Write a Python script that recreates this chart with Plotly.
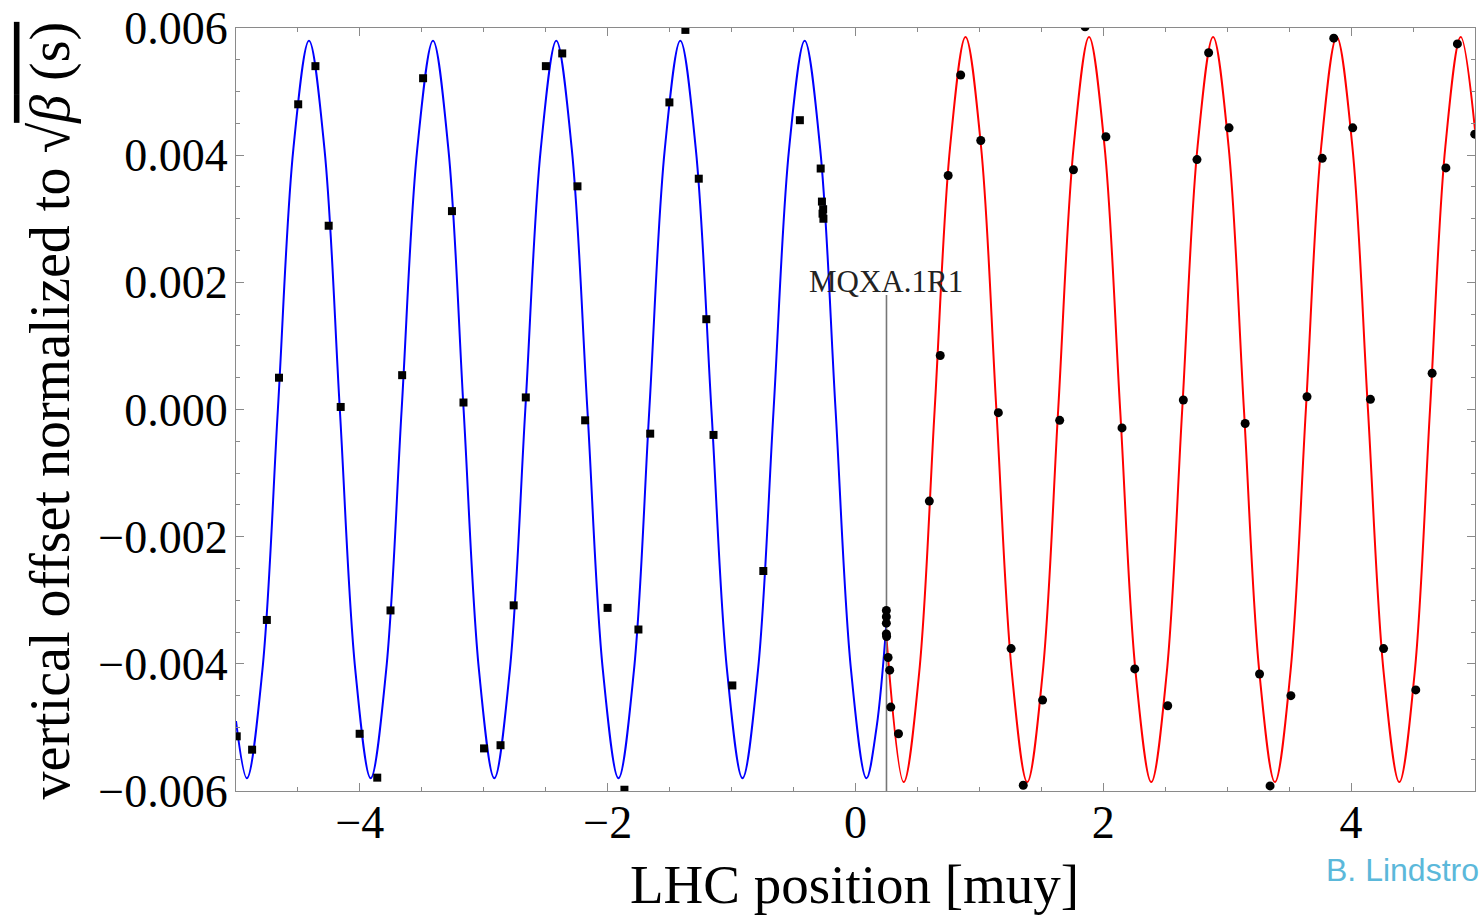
import plotly.graph_objects as go

# ---- measured data (blue: squares, left of MQXA.1R1; red: circles, right) ----
blue_x = [-4.994, -4.870, -4.751, -4.653, -4.498, -4.359, -4.252, -4.155, -4.002, -3.860,
          -3.753, -3.659, -3.490, -3.257, -3.164, -2.998, -2.865, -2.759, -2.661, -2.499,
          -2.367, -2.244, -2.182, -2.001, -1.865, -1.752, -1.657, -1.502, -1.373, -1.265,
          -1.204, -1.146, -0.994, -0.744, -0.449, -0.281, -0.271, -0.266, -0.261, -0.259]
blue_y = [-0.00514, -0.00535, -0.00331, 0.00050, 0.00480, 0.00540, 0.00289, 0.00004, -0.00510, -0.00579,
          -0.00316, 0.00054, 0.00521, 0.00312, 0.00011, -0.00533, -0.00528, -0.00308, 0.00019, 0.00540,
          0.00560, 0.00351, -0.00017, -0.00312, -0.00598, -0.00346, -0.00038, 0.00483, 0.00597, 0.00363,
          0.00142, -0.00040, -0.00434, -0.00254, 0.00455, 0.00379, 0.00327, 0.00308, 0.00315, 0.00300]

red_x = [0.249, 0.249, 0.249, 0.249, 0.251, 0.263, 0.276, 0.285, 0.347, 0.596,
         0.684, 0.748, 0.849, 1.011, 1.153, 1.256, 1.354, 1.510, 1.648, 1.759,
         1.853, 2.021, 2.151, 2.254, 2.520, 2.646, 2.756, 2.850, 3.015, 3.145,
         3.261, 3.346, 3.514, 3.644, 3.767, 3.860, 4.013, 4.156, 4.262, 4.522,
         4.654, 4.765, 4.858, 4.998]
red_y = [-0.00316, -0.00326, -0.00336, -0.00353, -0.00357, -0.00390, -0.00410, -0.00468, -0.00510, -0.00144,
         0.00085, 0.00368, 0.00526, 0.00423, -0.00005, -0.00376, -0.00591, -0.00457, -0.00017, 0.00377,
         0.00602, 0.00429, -0.00029, -0.00408, -0.00466, 0.00015, 0.00393, 0.00561, 0.00443, -0.00022,
         -0.00416, -0.00592, -0.00450, 0.00020, 0.00395, 0.00584, 0.00443, 0.00016, -0.00376, -0.00441,
         0.00057, 0.00380, 0.00575, 0.00433]

# ---- fitted oscillation curves: key points ----
blue_fit_x = [-5.000, -4.912, -4.787, -4.662, -4.537, -4.411, -4.286, -4.162, -4.037,
              -3.913, -3.788, -3.663, -3.537, -3.410, -3.286, -3.163, -3.039,
              -2.915, -2.790, -2.665, -2.540, -2.415, -2.290, -2.164, -2.039,
              -1.913, -1.788, -1.664, -1.539, -1.414, -1.289, -1.163, -1.037,
              -0.912, -0.787, -0.661, -0.536, -0.410, -0.285, -0.161, -0.036,
              0.088, 0.170, 0.250]
blue_fit_y = [-0.00490, -0.00580, -0.00410, 0.0, 0.00410, 0.00580, 0.00410, 0.0, -0.00410,
              -0.00580, -0.00410, 0.0, 0.00410, 0.00580, 0.00410, 0.0, -0.00410,
              -0.00580, -0.00410, 0.0, 0.00410, 0.00580, 0.00410, 0.0, -0.00410,
              -0.00580, -0.00410, 0.0, 0.00410, 0.00580, 0.00410, 0.0, -0.00410,
              -0.00580, -0.00410, 0.0, 0.00410, 0.00580, 0.00410, 0.0, -0.00410,
              -0.00580, -0.00500, -0.00335]

red_fit_x = [0.250, 0.389, 0.514, 0.639, 0.764, 0.888, 1.013, 1.137, 1.262,
             1.386, 1.511, 1.636, 1.761, 1.885, 2.010, 2.136, 2.261,
             2.387, 2.512, 2.637, 2.761, 2.886, 3.011, 3.135, 3.260,
             3.385, 3.510, 3.635, 3.759, 3.884, 4.010, 4.136, 4.263,
             4.389, 4.513, 4.637, 4.761, 4.885, 5.000]
red_fit_y = [-0.00360, -0.00586, -0.00414, 0.0, 0.00414, 0.00586, 0.00414, 0.0, -0.00414,
             -0.00586, -0.00414, 0.0, 0.00414, 0.00586, 0.00414, 0.0, -0.00414,
             -0.00586, -0.00414, 0.0, 0.00414, 0.00586, 0.00414, 0.0, -0.00414,
             -0.00586, -0.00414, 0.0, 0.00414, 0.00586, 0.00414, 0.0, -0.00414,
             -0.00586, -0.00414, 0.0, 0.00414, 0.00586, 0.00440]

marker_pos = 0.25
marker_top = 0.0018
marker_label = "MQXA.1R1"

x_range = [-5, 5]
y_range = [-0.006, 0.006]
x_ticks = [-4, -2, 0, 2, 4]
y_ticks = [-0.006, -0.004, -0.002, 0.0, 0.002, 0.004, 0.006]

x_title = "LHC position [muy]"
y_title = ("vertical offset normalized to √<span style='text-decoration:overline'>"
           "<i>β</i> (s)</span>")
credit = "B. Lindstrom"

SERIF = "Liberation Serif, Times New Roman, serif"
FRAME = "#8a8a8a"

fig = go.Figure()
fig.add_trace(go.Scatter(x=blue_fit_x, y=blue_fit_y, mode="lines",
                         line=dict(color="#0000ff", width=2, shape="spline", smoothing=1.0),
                         hoverinfo="skip", showlegend=False))
fig.add_trace(go.Scatter(x=red_fit_x, y=red_fit_y, mode="lines",
                         line=dict(color="#ff0000", width=2, shape="spline", smoothing=1.0),
                         hoverinfo="skip", showlegend=False))
fig.add_trace(go.Scatter(x=[marker_pos, marker_pos], y=[y_range[0], marker_top], mode="lines",
                         line=dict(color="#777777", width=1.6), hoverinfo="skip", showlegend=False))
fig.add_trace(go.Scatter(x=blue_x, y=blue_y, mode="markers",
                         marker=dict(symbol="square", size=8, color="black"),
                         showlegend=False))
fig.add_trace(go.Scatter(x=red_x, y=red_y, mode="markers",
                         marker=dict(symbol="circle", size=9, color="black"),
                         showlegend=False))

axis_common = dict(
    showgrid=False, zeroline=False, showline=True, linecolor=FRAME, linewidth=1.3,
    mirror="ticks", ticks="inside", ticklen=8, tickwidth=1, tickcolor=FRAME,
    tickfont=dict(family=SERIF, size=46, color="black"),
)
fig.update_xaxes(range=x_range, tickmode="array", tickvals=x_ticks,
                 minor=dict(tickmode="linear", tick0=0, dtick=0.5, ticks="inside",
                            ticklen=4, tickcolor=FRAME),
                 ticklabelstandoff=-9, **axis_common)
fig.update_yaxes(range=y_range, tickmode="array", tickvals=y_ticks, tickformat=".3f",
                 minor=dict(tickmode="linear", tick0=0, dtick=0.0005, ticks="inside",
                            ticklen=4, tickcolor=FRAME),
                 ticklabelstandoff=-2, **axis_common)

fig.add_annotation(x=marker_pos, y=marker_top, xref="x", yref="y", text=marker_label,
                   showarrow=False, xanchor="center", yanchor="bottom", yshift=-6,
                   font=dict(family=SERIF, size=31, color="#222222"))
fig.add_annotation(x=0.499, y=-0.1227, xref="paper", yref="paper", text=x_title,
                   showarrow=False, xanchor="center", yanchor="middle",
                   font=dict(family=SERIF, size=55, color="black"))
fig.add_annotation(x=-0.150, y=0.499, xref="paper", yref="paper", text=y_title,
                   textangle=-90, showarrow=False, xanchor="center", yanchor="middle",
                   font=dict(family=SERIF, size=56, color="black"))
fig.add_annotation(x=0.8782, y=-0.103, xref="paper", yref="paper", text=credit,
                   showarrow=False, xanchor="left", yanchor="middle",
                   font=dict(family="Liberation Sans, Arial, sans-serif", size=32, color="#5bb8da"))

fig.update_layout(width=1479, height=917, margin=dict(l=236, r=3, t=25, b=126),
                  plot_bgcolor="white", paper_bgcolor="white", showlegend=False)

fig.write_html("out.html")
